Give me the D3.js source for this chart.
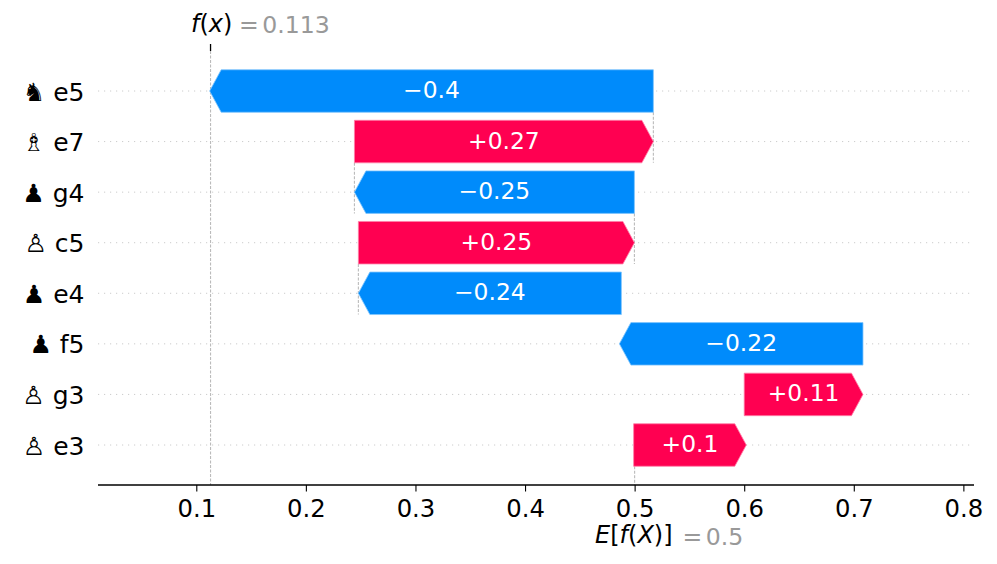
<!DOCTYPE html>
<html><head><meta charset="utf-8">
<script src="https://cdn.jsdelivr.net/npm/d3@7"></script>
<style>html,body{margin:0;background:#fff}svg{display:block}text{font-family:"DejaVu Sans",sans-serif}</style>
</head><body><div id="c"></div>
<script>
const features=["♞ e5","♗ e7","♟ g4","♙ c5","♟ e4","♟ f5","♙ g3","♙ e3"];
const starts=[0.5171,0.2443,0.4998,0.2479,0.4879,0.7084,0.6,0.4991];
const values=[-0.4049,0.2728,-0.2555,0.2519,-0.24,-0.2223,0.1084,0.1028];
const labels=["−0.4","+0.27","−0.25","+0.25","−0.24","−0.22","+0.11","+0.1"];
const xTicks=[0.1,0.2,0.3,0.4,0.5,0.6,0.7,0.8];
const baseValue=0.5, fxValue=0.113;
const connectors=[[0,1],[1,2],[2,3],[3,4]];

const W=997,H=564,FS=24.3;
const x=d3.scaleLinear().domain([0.0103,0.8097]).range([98,974]);
const y=d3.scalePoint().domain(features).range([91,445]);
const axisY=485,barH=42.5,head=11.5;
const blue="#008bfb",red="#ff0051",grey="#999999";
const svg=d3.select("#c").append("svg").attr("width",W).attr("height",H);

// row guides
svg.append("g").selectAll("line").data(features).join("line")
 .attr("x1",98).attr("x2",971).attr("y1",d=>y(d)).attr("y2",d=>y(d))
 .attr("stroke","#cccccc").attr("stroke-width",1).attr("stroke-dasharray","1.2 4.8");

// vertical references
const vl=svg.append("g").attr("stroke","#bbbbbb").attr("stroke-width",1.1).attr("stroke-dasharray","3 1.5");
vl.append("line").attr("x1",x(fxValue)).attr("x2",x(fxValue)).attr("y1",51).attr("y2",axisY);
vl.append("line").attr("x1",x(baseValue)).attr("x2",x(baseValue)).attr("y1",y(features[7])+barH/2).attr("y2",axisY);
vl.selectAll(".c").data(connectors).join("line").attr("class","c")
 .attr("x1",([a,b])=>x(starts[a])).attr("x2",([a,b])=>x(starts[a]))
 .attr("y1",([a,b])=>y(features[a])+barH/2).attr("y2",([a,b])=>y(features[b])+barH/2);

// bars
const rows=features.map((f,i)=>({f,s:starts[i],v:values[i],l:labels[i]}));
const bar=svg.append("g").selectAll("g").data(rows).join("g");
bar.append("path").attr("d",d=>{
  const x0=x(d.s),x1=x(d.s+d.v),dir=d.v>0?1:-1,t=y(d.f)-barH/2,b=y(d.f)+barH/2,m=y(d.f);
  return d3.line()([[x0,t],[x1-dir*head,t],[x1,m],[x1-dir*head,b],[x0,b]])+"Z";
}).attr("fill",d=>d.v>0?red:blue)
  .attr("stroke",d=>d.v>0?"#ff80a8":"#80c5fd").attr("stroke-width",0.8);
bar.append("text").attr("x",d=>(x(d.s)+x(d.s+d.v))/2).attr("y",d=>y(d.f))
 .attr("dy","0.3em").attr("text-anchor","middle").attr("fill","#fff").attr("font-size",23.4).text(d=>d.l);

// bottom axis
const ax=svg.append("g").attr("transform",`translate(0,${axisY})`)
 .call(d3.axisBottom(x).tickValues(xTicks).tickFormat(d3.format(".1f")).tickSize(6.5).tickPadding(8));
ax.select(".domain").attr("stroke","#000").attr("stroke-width",1.6).attr("d",`M${x.range()[0]},0H${x.range()[1]}`);
ax.selectAll(".tick line").attr("stroke","#000").attr("stroke-width",1.1);
ax.selectAll(".tick text").attr("font-size",FS).attr("font-family",'"DejaVu Sans"').attr("fill","#000");

// row labels
svg.append("g").selectAll("text").data(features).join("text")
 .attr("x",84.5).attr("y",d=>y(d)).attr("dy","0.38em").attr("text-anchor","end")
 .attr("font-size",25).attr("fill","#000").text(d=>d);

// top tick and value annotations
svg.append("line").attr("x1",x(fxValue)).attr("x2",x(fxValue)).attr("y1",44).attr("y2",51)
 .attr("stroke","#000").attr("stroke-width",1.3);
const t1=svg.append("text").attr("x",191).attr("y",31.5).attr("font-size",24);
t1.append("tspan").attr("font-style","italic").text("f");
t1.append("tspan").text("(");
t1.append("tspan").attr("font-style","italic").text("x");
t1.append("tspan").text(")");
t1.append("tspan").attr("fill",grey).attr("dx",6.5).attr("dy",1.5).attr("font-size",23.6).text("=");
t1.append("tspan").attr("fill",grey).attr("dx",3.5).attr("font-size",23.6).text(fxValue);
const t2=svg.append("text").attr("x",595).attr("y",543).attr("font-size",24);
t2.append("tspan").attr("font-style","italic").text("E");
t2.append("tspan").text("[");
t2.append("tspan").attr("font-style","italic").text("f");
t2.append("tspan").text("(");
t2.append("tspan").attr("font-style","italic").text("X");
t2.append("tspan").text(")]");
t2.append("tspan").attr("fill",grey).attr("dx",10).attr("dy",2).attr("font-size",23.6).text("=");
t2.append("tspan").attr("fill",grey).attr("dx",3.5).attr("font-size",23.6).text(baseValue);
</script></body></html>
